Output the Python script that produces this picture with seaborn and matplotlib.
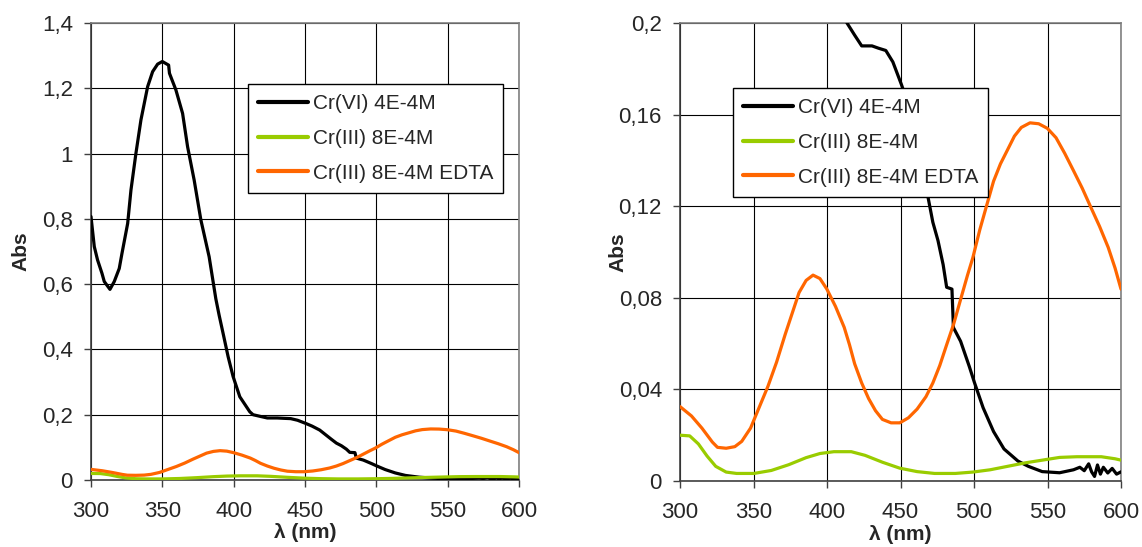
import numpy as np
import pandas as pd
import matplotlib
matplotlib.use("Agg")
import matplotlib.pyplot as plt
from matplotlib.ticker import FuncFormatter, MultipleLocator
from matplotlib.lines import Line2D
import seaborn as sns

# --- spectra (wavelength in nm, absorbance) ---
cr6_wl = [300, 302.3, 304.6, 307.7, 309.3, 313.3, 316.3, 319.8, 321.7, 325.7,
          328, 331.5, 335, 339.7, 343.2, 346.7, 350, 354.4, 355, 359.5,
          364.2, 367.7, 372.3, 377, 382.8, 387.5, 389.8, 392.6, 396.1, 399.6,
          404.3, 411.3, 413.6, 418.8, 423.6, 430.6, 435, 440, 444.8, 450.7,
          455, 460.3, 468.4, 472, 475.5, 479, 481.4, 485, 486, 490.9,
          496.8, 500.3, 506.2, 513.3, 520.4, 529.9, 537, 546.4, 558.2, 567.7,
          572, 575, 578, 580, 582, 584, 586, 588, 591, 594, 597, 600]
cr6_abs = [0.807, 0.715, 0.674, 0.633, 0.608, 0.584, 0.608, 0.648, 0.694, 0.786,
           0.888, 1.001, 1.103, 1.205, 1.251, 1.274, 1.282, 1.271, 1.246, 1.195,
           1.123, 1.021, 0.919, 0.797, 0.684, 0.555, 0.505, 0.449, 0.378, 0.317,
           0.255, 0.209, 0.200, 0.1947, 0.190, 0.190, 0.189, 0.188, 0.183, 0.173,
           0.165, 0.153, 0.125, 0.113, 0.105, 0.0945, 0.0846, 0.0838, 0.067, 0.061,
           0.050, 0.043, 0.032, 0.0216, 0.014, 0.0087, 0.0064, 0.0041, 0.0036, 0.0049,
           0.006, 0.0045, 0.0075, 0.004, 0.002, 0.007, 0.003, 0.006, 0.0035, 0.0055,
           0.003, 0.004]

cr3_wl = [300, 306.6, 312.5, 318.4, 324.3, 331.4, 338.5, 350.3, 362.1, 373.9,
          385.8, 395.2, 404.7, 416.5, 425.9, 437.7, 449.5, 461.3, 473.2, 487.3,
          499.2, 511, 522.8, 534.6, 546.4, 558.2, 570, 586.6, 596, 600]
cr3_abs = [0.0200, 0.0197, 0.0162, 0.0109, 0.0064, 0.0039, 0.0033, 0.0033, 0.0046, 0.0071,
           0.0102, 0.0120, 0.0128, 0.0128, 0.0112, 0.0082, 0.0056, 0.0041, 0.0033, 0.0033,
           0.0039, 0.0049, 0.0064, 0.0079, 0.0091, 0.0103, 0.0106, 0.0106, 0.0097, 0.0091]

edta_wl = [300, 307.8, 314.9, 322, 325.5, 331.4, 337.3, 342, 348, 353.9,
           359.8, 365.7, 371.6, 376.3, 381, 385.8, 390.5, 395.2, 399.9, 405.8,
           411.7, 415.3, 418.8, 423.6, 428.3, 433, 437.7, 443.6, 449.5, 455.4,
           461.3, 467.3, 472, 476.7, 481.4, 486.2, 490.9, 495.6, 499.2, 503.9,
           508.6, 513.3, 518, 522.8, 527.5, 532.2, 538.1, 544, 549.9, 555.8,
           561.7, 567.7, 573.6, 579.5, 585.4, 591.3, 596, 600]
edta_abs = [0.0325, 0.0284, 0.0231, 0.0170, 0.0147, 0.0143, 0.0150, 0.0173, 0.0231, 0.0322,
            0.0413, 0.0519, 0.0641, 0.0732, 0.0823, 0.0876, 0.0899, 0.0884, 0.0838, 0.0762,
            0.0671, 0.0595, 0.0512, 0.0428, 0.0360, 0.0307, 0.0269, 0.0254, 0.0254, 0.0276,
            0.0314, 0.0368, 0.0428, 0.0504, 0.0595, 0.0686, 0.0793, 0.0899, 0.0975, 0.1096,
            0.1203, 0.1309, 0.1385, 0.1446, 0.1506, 0.1544, 0.1564, 0.1560, 0.1540, 0.1499,
            0.1431, 0.1355, 0.1279, 0.1195, 0.1112, 0.1020, 0.0929, 0.0838]

series_names = ["Cr(VI) 4E-4M", "Cr(III) 8E-4M", "Cr(III) 8E-4M EDTA"]
series_colors = ["#000000", "#99CC00", "#FF6600"]

frames = []
for name, wl, ab in zip(series_names, [cr6_wl, cr3_wl, edta_wl],
                        [cr6_abs, cr3_abs, edta_abs]):
    frames.append(pd.DataFrame({"wl": wl, "abs": ab, "series": name}))
df = pd.concat(frames, ignore_index=True)

sns.set_theme(style="white")
plt.rcParams["font.family"] = ["Liberation Sans", "DejaVu Sans"]

fig = plt.figure(figsize=(11.42, 5.47), dpi=100)
ax_full = fig.add_axes([91 / 1142, 67 / 547, 428 / 1142, 457 / 547])
ax_zoom = fig.add_axes([680 / 1142, 66 / 547, 441 / 1142, 458 / 547])


def comma_fmt(v, pos):
    return f"{round(v, 4):g}".replace(".", ",")


panels = [
    (ax_full, 1.4, 0.2, -0.142, (248 / 1142, 1 - 84 / 547)),
    (ax_zoom, 0.2, 0.04, -0.118, (733 / 1142, 1 - 88 / 547)),
]

for ax, ymax, ystep, ylab_x, leg_anchor in panels:
    sns.lineplot(data=df, x="wl", y="abs", hue="series", hue_order=series_names,
                 palette=series_colors, estimator=None, sort=False,
                 linewidth=2.3, ax=ax, legend=False, zorder=3)
    ax.set_xlim(300, 600)
    ax.set_ylim(0, ymax)
    ax.xaxis.set_major_locator(MultipleLocator(50))
    ax.yaxis.set_major_locator(MultipleLocator(ystep))
    ax.yaxis.set_major_formatter(FuncFormatter(comma_fmt))
    ax.grid(True, color="#000000", linewidth=0.8, zorder=0)
    ax.set_axisbelow(True)
    for side in ["top", "right"]:
        ax.spines[side].set_color("#808080")
        ax.spines[side].set_linewidth(1.2)
    for side in ["left", "bottom"]:
        ax.spines[side].set_color("#404040")
        ax.spines[side].set_linewidth(1.2)
    ax.tick_params(axis="y", which="major", direction="out", length=5, width=1,
                   color="#404040", pad=8, labelsize=16, left=True)
    ax.tick_params(axis="x", which="major", direction="out", length=5, width=1,
                   color="#404040", pad=10, labelsize=16, bottom=True)
    ax.set_xlabel("λ (nm)", fontsize=15, fontweight="bold")
    ax.set_ylabel("Abs", fontsize=15, fontweight="bold")
    ax.xaxis.set_label_coords(0.5, -0.095)
    ax.yaxis.set_label_coords(ylab_x, 0.5)

    handles = [Line2D([0], [0], color=c, linewidth=3) for c in series_colors]
    leg = fig.legend(handles, series_names, loc="upper left",
                     bbox_to_anchor=leg_anchor, bbox_transform=fig.transFigure,
                     fontsize=15, frameon=True, fancybox=False, shadow=False,
                     framealpha=1, edgecolor="#000000", handlelength=2.4,
                     handletextpad=0.2, labelspacing=0.75, borderpad=0.5,
                     borderaxespad=0)
    leg.get_frame().set_linewidth(1.0)

fig.savefig("out.png", dpi=100)
